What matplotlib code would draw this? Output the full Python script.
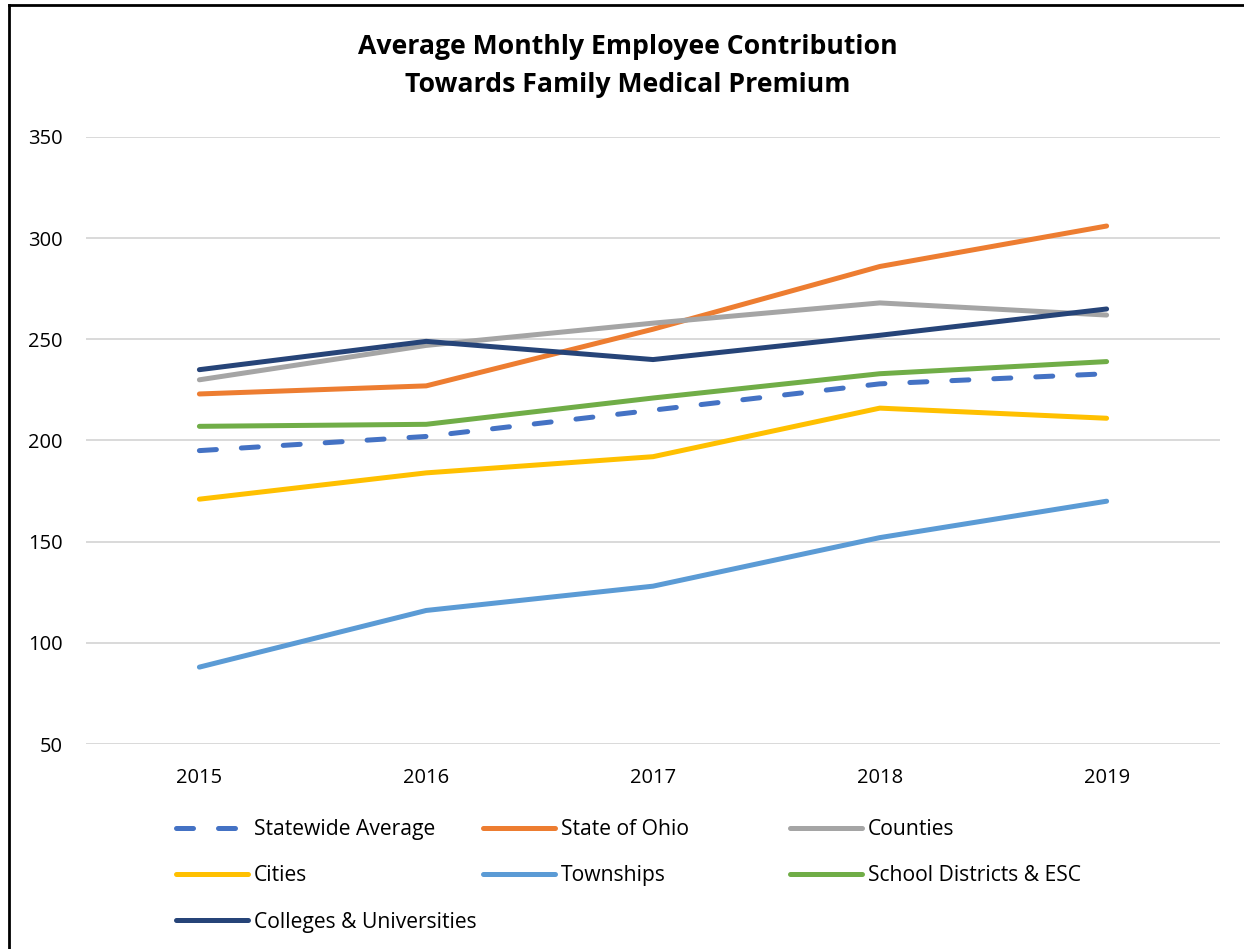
import matplotlib.pyplot as plt
from matplotlib.lines import Line2D

plt.rcParams['font.family'] = ['Open Sans', 'DejaVu Sans']

# Data
years = ['2015', '2016', '2017', '2018', '2019']
statewide = [195, 202, 215, 228, 233]
state_of_ohio = [223, 227, 255, 286, 306]
counties = [230, 247, 258, 268, 262]
cities = [171, 184, 192, 216, 211]
townships = [88, 116, 128, 152, 170]
school_districts = [207, 208, 221, 233, 239]
colleges = [235, 249, 240, 252, 265]

W, H = 1244, 949
fig = plt.figure(figsize=(W / 100, H / 100), dpi=100)

# plot area in pixel terms (left, bottom, right, top)
L, R, T, B = 86, 1220, 137, 744
ax = fig.add_axes([L / W, 1 - B / H, (R - L) / W, (B - T) / H])

x = range(len(years))
lw = 3.6
ax.plot(x, state_of_ohio, color='#ED7D31', lw=lw, solid_capstyle='round', label='State of Ohio')
ax.plot(x, counties, color='#A5A5A5', lw=lw, solid_capstyle='round', label='Counties')
ax.plot(x, cities, color='#FFC000', lw=lw, solid_capstyle='round', label='Cities')
ax.plot(x, townships, color='#5B9BD5', lw=lw, solid_capstyle='round', label='Townships')
ax.plot(x, school_districts, color='#70AD47', lw=lw, solid_capstyle='round', label='School Districts & ESC')
ax.plot(x, colleges, color='#264478', lw=lw, solid_capstyle='round', label='Colleges & Universities')
ax.plot(x, statewide, color='#4472C4', lw=lw, dashes=(3.4, 5.0), dash_capstyle='round',
        label='Statewide Average')

ax.set_xlim(-0.5, len(years) - 0.5)
ax.set_ylim(50, 350)
ax.set_yticks(range(50, 351, 50))
ax.set_xticks(list(x))
ax.set_xticklabels(years)
ax.tick_params(length=0, labelsize=14.5, colors='black')
ax.tick_params(axis='y', pad=17)
ax.tick_params(axis='x', pad=17)
ax.grid(axis='y', color='#D9D9D9', lw=1.4)
ax.set_axisbelow(True)
for s in ax.spines.values():
    s.set_visible(False)

# title
fig.text(628 / W, 1 - 47 / H, 'Average Monthly Employee Contribution',
         ha='center', va='center', fontsize=19.2, fontweight='bold')
fig.text(628 / W, 1 - 85 / H, 'Towards Family Medical Premium',
         ha='center', va='center', fontsize=19.2, fontweight='bold')

# legend, laid out in three fixed columns
handles = {h.get_label(): h for h in ax.get_lines()}
columns = [
    (176, ['Statewide Average', 'Cities', 'Colleges & Universities']),
    (483, ['State of Ohio', 'Townships']),
    (790, ['Counties', 'School Districts & ESC']),
]
for xpos, names in columns:
    fig.legend([handles[n] for n in names], names, loc='upper left',
               bbox_to_anchor=(xpos / W, 1 - 819 / H), frameon=False,
               fontsize=15.2, handlelength=3.4, handletextpad=0.28,
               labelspacing=1.2, borderpad=0, borderaxespad=0)

# frame of the chart (top and left edges)
fig.add_artist(Line2D([8.5 / W, 1], [1 - 5 / H, 1 - 5 / H], color='black', lw=2))
fig.add_artist(Line2D([8.5 / W, 8.5 / W], [0, 1 - 5 / H], color='black', lw=2))

fig.savefig('out.png', dpi=100, facecolor='white')
